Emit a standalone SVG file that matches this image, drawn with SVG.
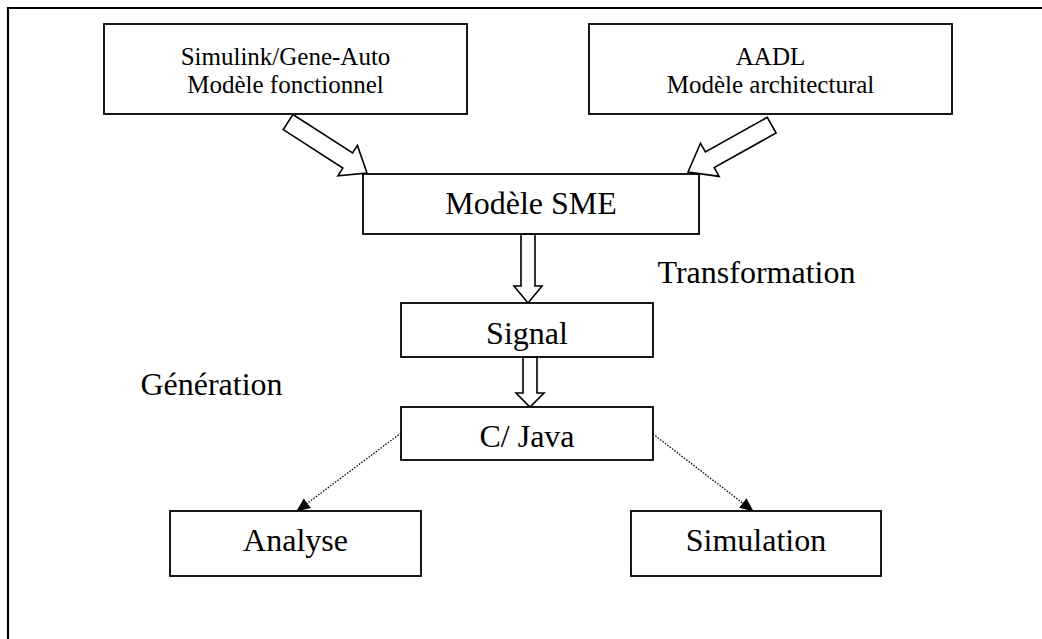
<svg xmlns="http://www.w3.org/2000/svg" width="1042" height="639" viewBox="0 0 1042 639">
<defs>
<marker id="ah" markerWidth="14" markerHeight="12" refX="13" refY="6" orient="auto" markerUnits="userSpaceOnUse">
<path d="M0,0 L14,6 L0,12 Z" fill="#000"/>
</marker>
<style>
.box{fill:#fff;stroke:#000;stroke-width:1.8}
.t{font-family:"Liberation Serif","Times New Roman",serif;fill:#000;text-anchor:middle}
.s{font-size:25px}
.b{font-size:32px}
.fat{fill:#fff;stroke:#000;stroke-width:1.6;stroke-linejoin:miter}
.dot{fill:none;stroke:#000;stroke-width:1.3;stroke-dasharray:1.5 1.5}
</style>
</defs>
<rect width="1042" height="639" fill="#fff"/>
<g id="frame">
<line x1="7" y1="8" x2="1042" y2="8" stroke="#000" stroke-width="2.2"/>
<line x1="8" y1="7" x2="8" y2="639" stroke="#000" stroke-width="2.2"/>
</g>
<g id="connectors">
<polygon class="fat" points="292.9,114.5 352.6,153 357.4,145.4 367,173 337.9,175.7 342.8,168.1 283.2,129.6"/>
<polygon class="fat" points="767.3,117.3 705.4,152 700.5,143.2 688,172 719.1,176.4 714.2,167.6 776.1,133"/>
<polygon class="fat" points="521,234 535,234 535,286 542,286 528,303 514,286 521,286"/>
<polygon class="fat" points="523,357 537,357 537,393 544,393 530,407 516,393 523,393"/>
<line class="dot" x1="401" y1="433" x2="297" y2="511" marker-end="url(#ah)"/>
<line class="dot" x1="653" y1="434" x2="753" y2="511" marker-end="url(#ah)"/>
</g>
<g id="simulink">
<rect class="box" x="104" y="24" width="363" height="90"/>
<text class="t s" x="285.5" y="65">Simulink/Gene-Auto</text>
<text class="t s" x="285.5" y="93">Modèle fonctionnel</text>
</g>
<g id="aadl">
<rect class="box" x="589" y="24" width="363" height="90"/>
<text class="t s" x="770.5" y="65">AADL</text>
<text class="t s" x="770.5" y="93">Modèle architectural</text>
</g>
<g id="sme">
<rect class="box" x="363" y="174" width="336" height="60"/>
<text class="t b" x="531" y="214">Modèle SME</text>
</g>
<g id="signal">
<rect class="box" x="401" y="303" width="252" height="54"/>
<text class="t b" x="527" y="344">Signal</text>
</g>
<g id="cjava">
<rect class="box" x="401" y="407" width="252" height="53"/>
<text class="t b" x="527" y="447">C/ Java</text>
</g>
<g id="analyse">
<rect class="box" x="170" y="511" width="251" height="65"/>
<text class="t b" x="295.5" y="551">Analyse</text>
</g>
<g id="simulation">
<rect class="box" x="631" y="511" width="250" height="65"/>
<text class="t b" x="756" y="551">Simulation</text>
</g>
<g id="labels">
<text class="t b" x="756.5" y="283">Transformation</text>
<text class="t b" x="211.5" y="395">Génération</text>
</g>
</svg>
